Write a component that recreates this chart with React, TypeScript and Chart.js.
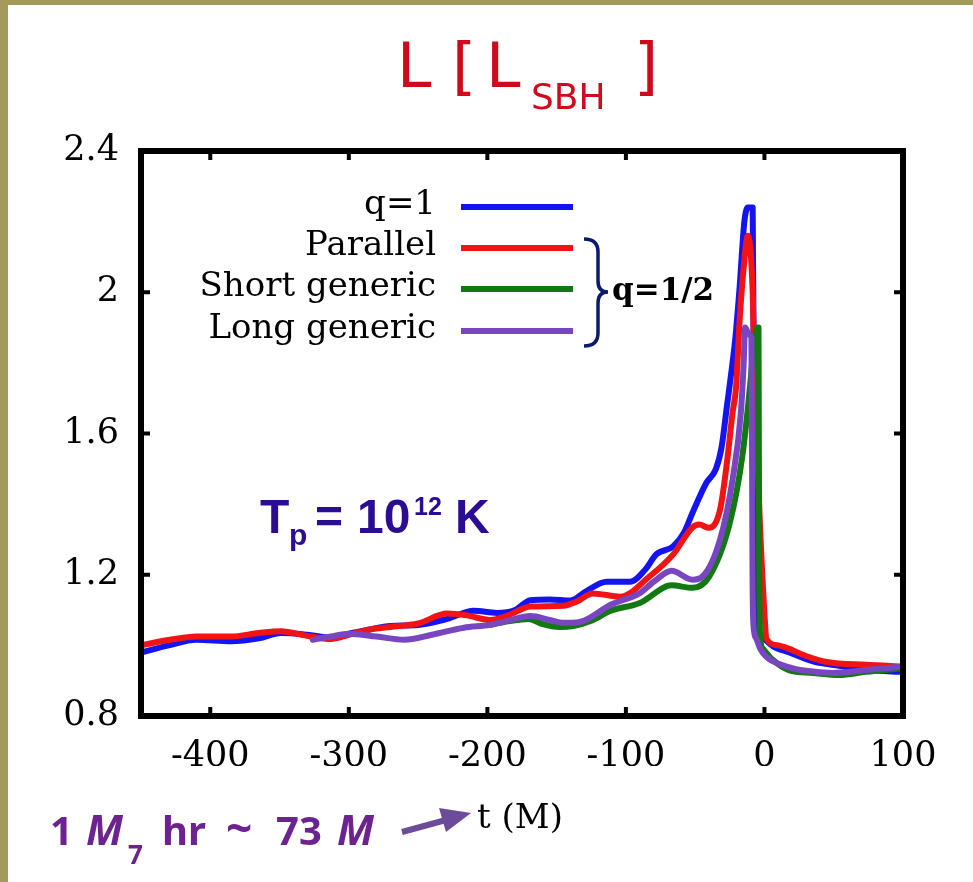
import { useEffect, useRef } from "react";
import { Chart, registerables } from "chart.js";

Chart.register(...registerables);

// Axis ticks
const xTickValues = [-400, -300, -200, -100, 0, 100];
const yTickValues = [0.8, 1.2, 1.6, 2, 2.4];

// Series labels and colours
const seriesNames = ["q=1", "Parallel", "Short generic", "Long generic"];
const seriesColors = ["#1414f2", "#f21414", "#127812", "#7846c0"];

// q=1 (equal mass)
const qOneT = [-450, -430, -410, -385, -365, -349, -330, -313, -300, -285, -270, -250, -229, -210, -193, -180, -169, -155, -140, -128, -114, -97, -86, -78, -66, -58, -52, -42, -35, -31, -27, -24, -21, -18, -14.5, -12, -8.5, -7.5, -6.5, -3, 0, 6, 18, 35, 49, 75, 100];
const qOneL = [0.98, 1.0, 1.016, 1.012, 1.02, 1.035, 1.03, 1.022, 1.033, 1.045, 1.055, 1.058, 1.075, 1.098, 1.092, 1.1, 1.128, 1.13, 1.127, 1.155, 1.18, 1.18, 1.215, 1.258, 1.28, 1.32, 1.375, 1.46, 1.5, 1.56, 1.68, 1.77, 1.87, 2.01, 2.2, 2.24, 2.24, 1.6, 1.06, 1.03, 1.018, 0.998, 0.98, 0.955, 0.945, 0.93, 0.925];

// q=1/2, parallel spins
const parallelT = [-450, -430, -410, -385, -365, -349, -330, -313, -300, -285, -270, -250, -229, -215, -198, -185, -169, -145, -135, -124, -104, -83, -66, -52, -47, -40, -32, -27, -23, -20.5, -18, -15, -12, -8.5, -7, -3.6, 0, 1.5, 10, 16, 30, 45, 73, 100];
const parallelL = [1.0, 1.015, 1.025, 1.025, 1.035, 1.04, 1.027, 1.018, 1.03, 1.045, 1.052, 1.062, 1.09, 1.085, 1.072, 1.085, 1.11, 1.112, 1.125, 1.147, 1.138, 1.195, 1.257, 1.334, 1.342, 1.333, 1.385, 1.52, 1.66, 1.73, 1.915, 2.07, 2.16, 2.0, 1.75, 1.376, 1.09, 1.018, 1.0, 0.993, 0.97, 0.953, 0.945, 0.94];

// q=1/2, short generic run
const shortT = [-198, -185, -170, -160, -148, -138, -125, -111, -90, -67, -52, -40, -25, -16, -10, -8, -5, -4.3, -3.8, -3, -1, 6, 17.6, 35, 54, 73, 100];
const shortL = [1.058, 1.068, 1.075, 1.06, 1.052, 1.055, 1.07, 1.098, 1.12, 1.17, 1.163, 1.194, 1.347, 1.535, 1.75, 1.84, 1.9, 1.9, 1.2, 1.02, 0.99, 0.959, 0.93, 0.922, 0.916, 0.925, 0.935];

// q=1/2, long generic run
const longT = [-326, -313, -300, -280, -260, -240, -217, -198, -185, -169, -155, -145, -138, -130, -111, -90, -80, -67, -52, -45, -32, -23, -17, -15, -14, -11, -9.4, -8.6, -8, -6, -3, 1.5, 16, 30, 49, 73, 100];
const longL = [1.016, 1.025, 1.033, 1.025, 1.016, 1.03, 1.05, 1.058, 1.07, 1.083, 1.072, 1.064, 1.064, 1.07, 1.115, 1.148, 1.18, 1.211, 1.186, 1.194, 1.3, 1.47, 1.66, 1.8, 1.9, 1.88, 1.87, 1.2, 1.06, 1.02, 0.99, 0.967, 0.94, 0.928, 0.922, 0.93, 0.94];

const seriesT = [qOneT, parallelT, shortT, longT];
const seriesL = [qOneL, parallelL, shortL, longL];
// later entries sit on top
const seriesOrder = [4, 3, 2, 1];

const SERIF = '"DejaVu Serif", "Liberation Serif", serif';
const OLIVE = "#a39a5b";

const decorPlugin = {
  id: "decor",
  beforeDraw(chart: any) {
    const { ctx, width, height } = chart;
    ctx.save();
    ctx.fillStyle = "#ffffff";
    ctx.fillRect(0, 0, width, height);
    ctx.fillStyle = OLIVE;
    ctx.fillRect(0, 0, width, 5);
    ctx.fillRect(0, 0, 8, height);
    ctx.restore();
  },
  afterDatasetsDraw(chart: any) {
    const { ctx, chartArea } = chart;
    const { left, right, top, bottom } = chartArea;
    const xs = chart.scales.x;
    const ys = chart.scales.y;
    ctx.save();
    ctx.strokeStyle = "#000";
    ctx.lineWidth = 4;
    ctx.lineCap = "butt";
    const tl = 9;
    for (const v of xTickValues) {
      const px = xs.getPixelForValue(v);
      ctx.beginPath();
      ctx.moveTo(px, bottom);
      ctx.lineTo(px, bottom - tl);
      ctx.moveTo(px, top);
      ctx.lineTo(px, top + tl);
      ctx.stroke();
    }
    for (const v of yTickValues) {
      const py = ys.getPixelForValue(v);
      ctx.beginPath();
      ctx.moveTo(left, py);
      ctx.lineTo(left + tl, py);
      ctx.moveTo(right, py);
      ctx.lineTo(right - tl, py);
      ctx.stroke();
    }
    ctx.lineWidth = 6;
    ctx.lineJoin = "miter";
    ctx.strokeRect(left, top, right - left, bottom - top);
    ctx.restore();
  },
  afterDraw(chart: any) {
    const { ctx } = chart;
    ctx.save();

    // Legend: right-aligned names with line samples
    const rows = [207, 248, 289, 331];
    ctx.font = `34px ${SERIF}`;
    ctx.fillStyle = "#000";
    ctx.textAlign = "right";
    ctx.textBaseline = "middle";
    seriesNames.forEach((name, i) => {
      ctx.fillText(name, 436, rows[i] - 2);
      ctx.strokeStyle = seriesColors[i];
      ctx.lineWidth = 6;
      ctx.beginPath();
      ctx.moveTo(461, rows[i]);
      ctx.lineTo(573, rows[i]);
      ctx.stroke();
    });

    // Brace grouping the q=1/2 runs
    ctx.strokeStyle = "#0c1a6e";
    ctx.lineWidth = 3.5;
    ctx.beginPath();
    ctx.moveTo(584, 239);
    ctx.quadraticCurveTo(598, 239, 598, 252);
    ctx.lineTo(598, 281);
    ctx.quadraticCurveTo(598, 292, 608, 292);
    ctx.quadraticCurveTo(598, 292, 598, 303);
    ctx.lineTo(598, 333);
    ctx.quadraticCurveTo(598, 346, 584, 346);
    ctx.stroke();
    ctx.font = `bold 31px ${SERIF}`;
    ctx.textAlign = "left";
    ctx.fillStyle = "#000";
    ctx.fillText("q=1/2", 612, 292);

    // Title
    ctx.fillStyle = "#cf0a1c";
    ctx.textBaseline = "alphabetic";
    ctx.font = '62px "DejaVu Sans", sans-serif';
    ctx.fillText("L", 397, 87);
    ctx.fillText("[", 452, 87);
    ctx.fillText("L", 486, 87);
    ctx.fillText("]", 634, 87);
    ctx.font = '36px "DejaVu Sans", sans-serif';
    ctx.fillText("SBH", 531, 109);

    // Temperature label
    ctx.fillStyle = "#2b0c94";
    ctx.font = 'bold 48px "Liberation Sans", Arial, sans-serif';
    ctx.fillText("T", 260, 533);
    ctx.fillText("=", 315, 533);
    ctx.fillText("10", 357, 533);
    ctx.fillText("K", 455, 533);
    ctx.font = 'bold 30px "Liberation Sans", Arial, sans-serif';
    ctx.fillText("p", 289, 545);
    ctx.font = 'bold 25px "Liberation Sans", Arial, sans-serif';
    ctx.fillText("12", 414, 515);

    // Time-unit note with arrow
    ctx.fillStyle = "#6c2390";
    ctx.font = 'bold 40px "Noto Sans", sans-serif';
    ctx.fillText("1", 50, 845);
    ctx.fillText("hr", 162, 845);
    ctx.fillText("73", 276, 845);
    ctx.font = 'bold 46px "Noto Sans", sans-serif';
    ctx.fillText("~", 226, 845);
    ctx.font = 'italic bold 42px "Noto Sans", sans-serif';
    ctx.fillText("M", 86, 845);
    ctx.fillText("M", 337, 845);
    ctx.font = 'bold 26px "Noto Sans", sans-serif';
    ctx.fillText("7", 128, 864);

    ctx.strokeStyle = "#6b4c9a";
    ctx.fillStyle = "#6b4c9a";
    ctx.lineWidth = 6;
    ctx.beginPath();
    ctx.moveTo(402, 832);
    ctx.lineTo(446, 820);
    ctx.stroke();
    ctx.beginPath();
    ctx.moveTo(471, 813);
    ctx.lineTo(446, 832);
    ctx.lineTo(439, 808);
    ctx.closePath();
    ctx.fill();

    // x-axis title
    ctx.fillStyle = "#000";
    ctx.font = `34px ${SERIF}`;
    ctx.textAlign = "center";
    ctx.fillText("t (M)", 520, 828);

    ctx.restore();
  },
};

export default function App() {
  const canvasRef = useRef<HTMLCanvasElement | null>(null);

  useEffect(() => {
    const canvas = canvasRef.current;
    if (!canvas) return;
    const datasets = seriesNames.map((name, i) => ({
      label: name,
      data: seriesT[i].map((t, k) => ({ x: t, y: seriesL[i][k] })),
      borderColor: seriesColors[i],
      backgroundColor: seriesColors[i],
      borderWidth: 6,
      pointRadius: 0,
      fill: false,
      cubicInterpolationMode: "monotone" as const,
      borderCapStyle: "round" as const,
      borderJoinStyle: "round" as const,
      order: seriesOrder[i],
    }));

    const chart = new Chart(canvas, {
      type: "line",
      data: { datasets },
      options: {
        responsive: false,
        animation: false,
        devicePixelRatio: 1,
        layout: { padding: { left: 0, top: 151, right: 70, bottom: 116 } },
        plugins: {
          legend: { display: false },
          tooltip: { enabled: false },
          title: { display: false },
        },
        scales: {
          x: {
            type: "linear",
            min: -450,
            max: 100,
            afterBuildTicks: (s: any) => {
              s.ticks = xTickValues.map((v) => ({ value: v }));
            },
            afterFit: (s: any) => {
              s.height = 50;
            },
            grid: { display: false, drawTicks: false },
            border: { display: false },
            ticks: {
              font: { family: SERIF, size: 35 },
              color: "#000",
              padding: 20,
              maxRotation: 0,
              autoSkip: false,
              callback: (v: any) => String(v),
            },
          },
          y: {
            type: "linear",
            min: 0.8,
            max: 2.4,
            afterBuildTicks: (s: any) => {
              s.ticks = yTickValues.map((v) => ({ value: v }));
            },
            afterFit: (s: any) => {
              s.width = 141;
            },
            grid: { display: false, drawTicks: false },
            border: { display: false },
            ticks: {
              font: { family: SERIF, size: 35 },
              color: "#000",
              padding: 22,
              autoSkip: false,
              callback: (v: any) => String(v),
            },
          },
        },
      },
      plugins: [decorPlugin],
    });
    return () => chart.destroy();
  }, []);

  return (
    <div style={{ position: "absolute", left: 0, top: 0, width: 973, height: 882 }}>
      <canvas ref={canvasRef} width={973} height={882} style={{ display: "block" }} />
    </div>
  );
}
